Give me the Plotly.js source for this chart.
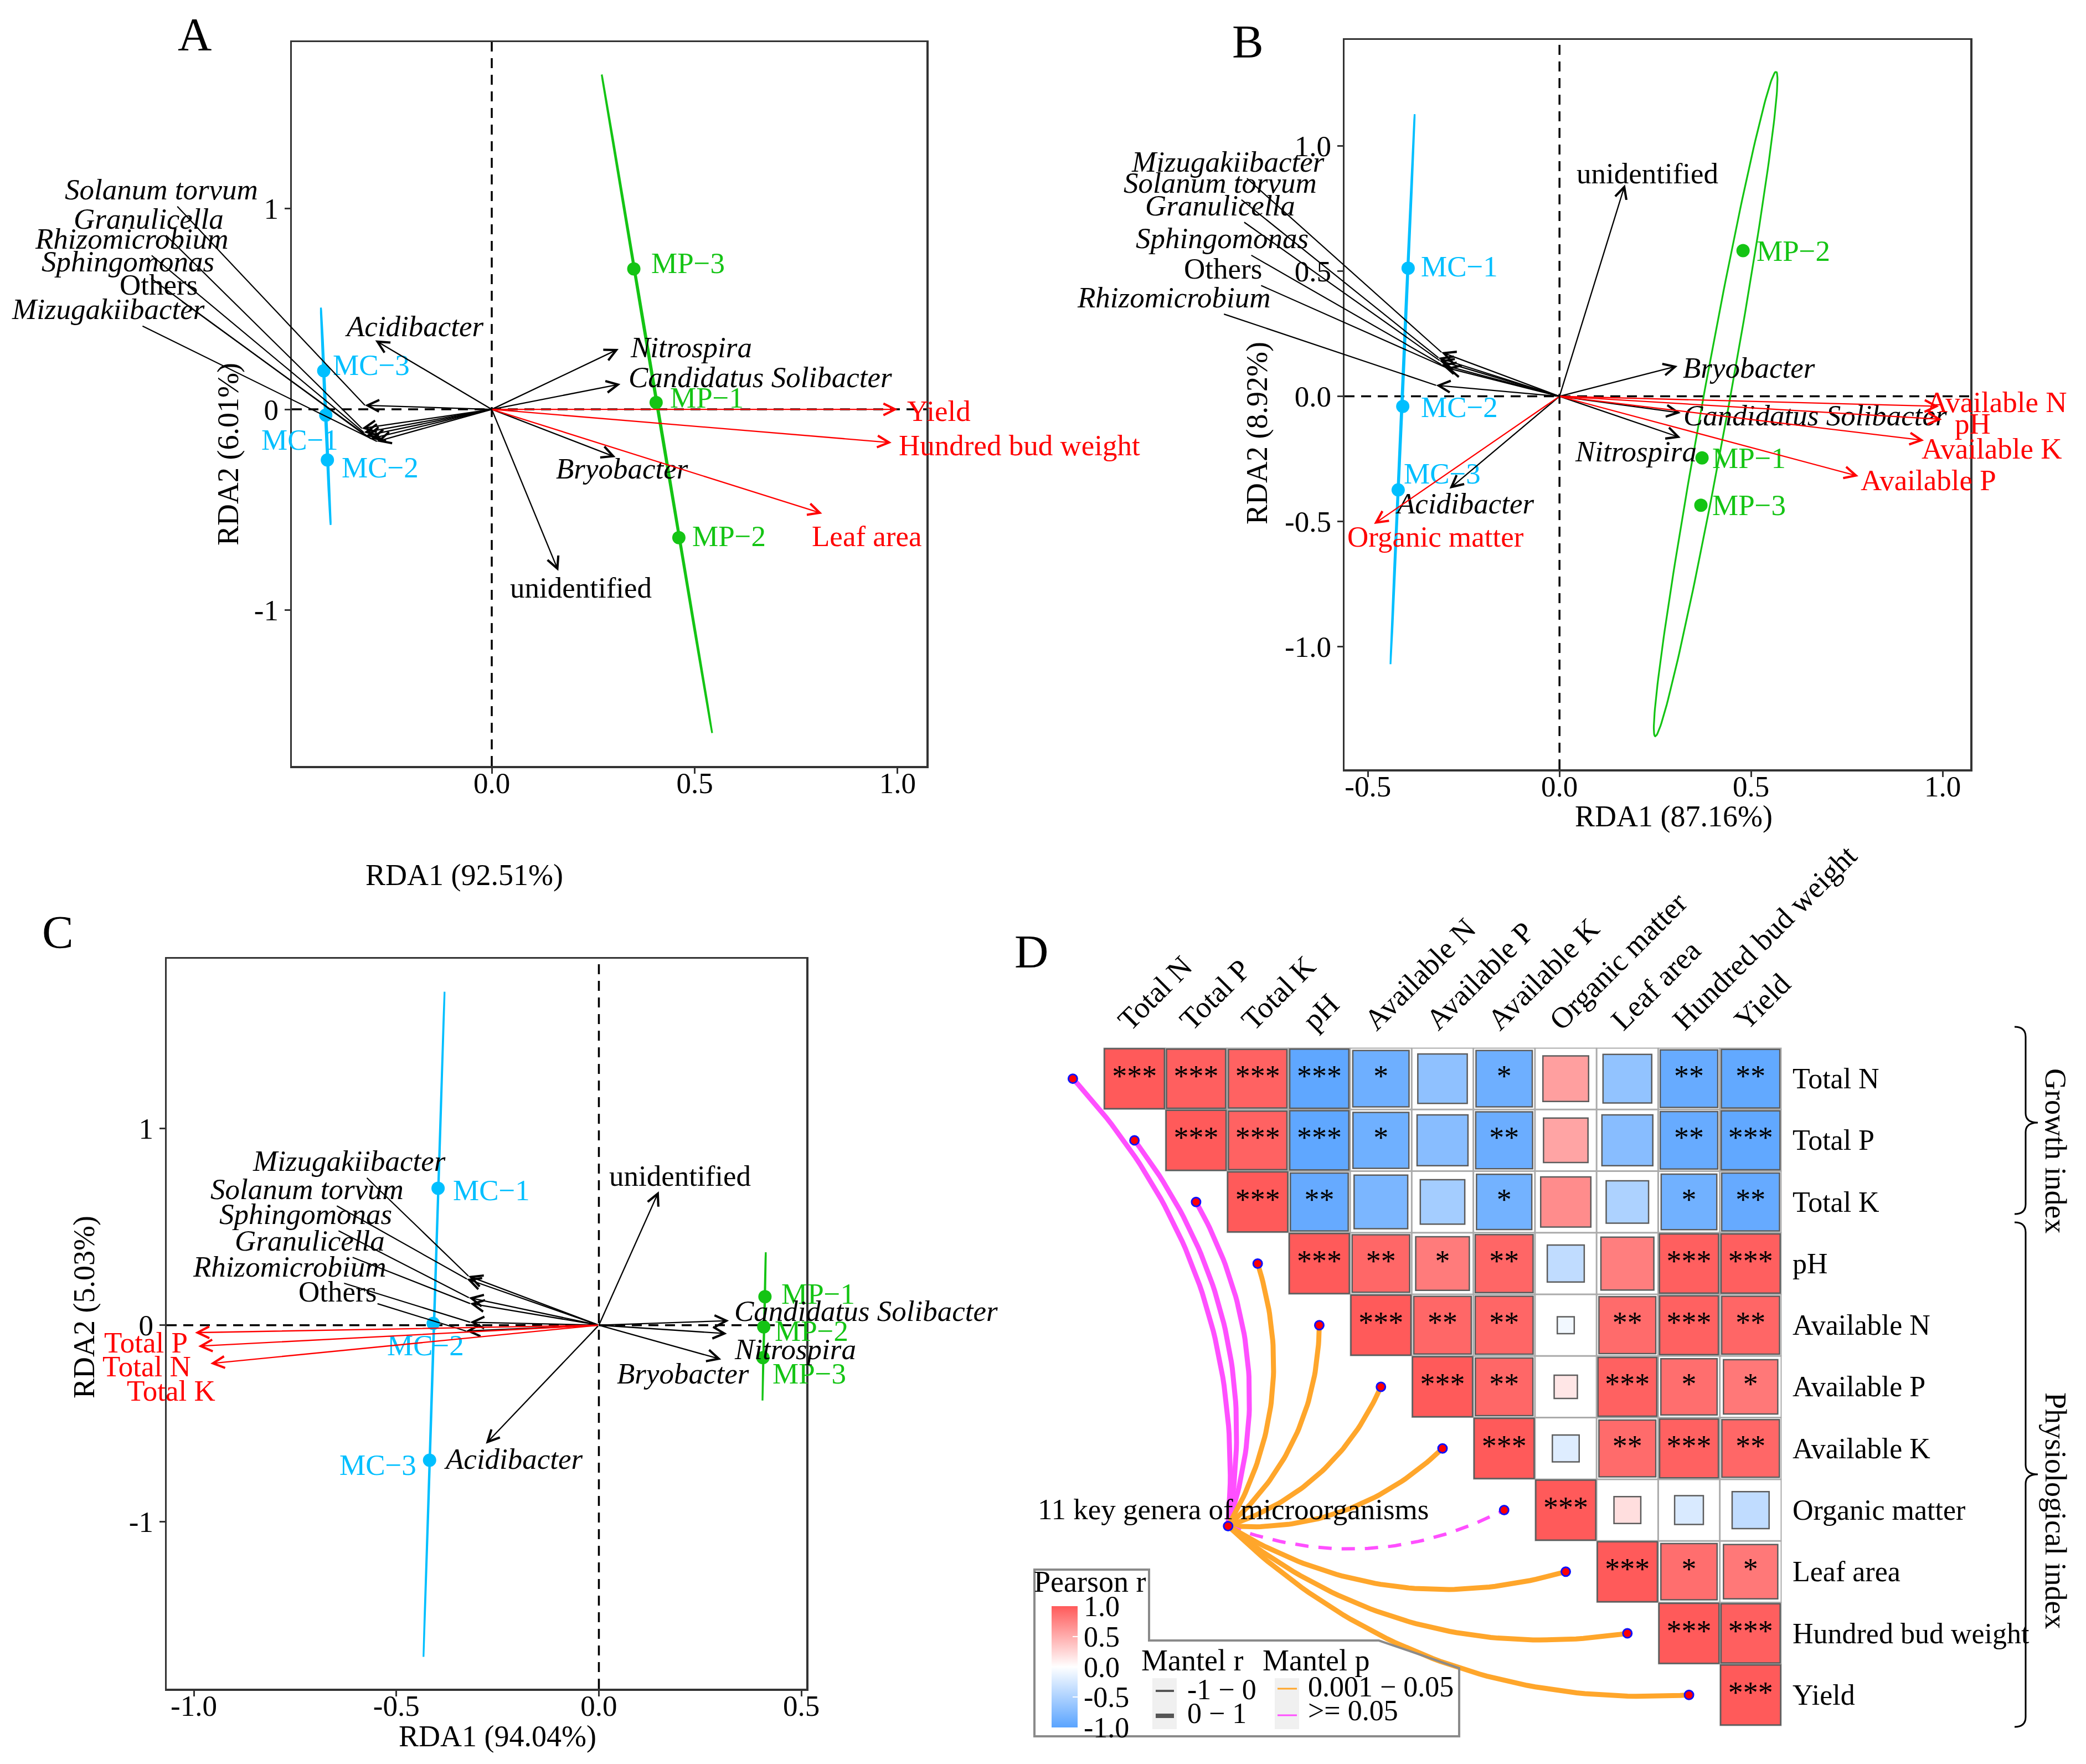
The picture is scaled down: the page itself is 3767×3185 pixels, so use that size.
<!DOCTYPE html>
<html><head><meta charset="utf-8">
<script src="https://cdn.plot.ly/plotly-3.0.1.min.js"></script>
<style>html,body{margin:0;padding:0;background:#fff}#chart{width:3767px;height:3185px}</style>
</head><body><div id="chart"></div>
<script>
const W = 3767, H = 3185;
const FONT = '"Liberation Serif","Times New Roman",Times,serif';

// ================= DATA =================
const sites = ['MC−1','MC−2','MC−3','MP−1','MP−2','MP−3'];
const siteGroup = ['MC','MC','MC','MP','MP','MP'];
const species = ['Solanum torvum','Granulicella','Rhizomicrobium','Sphingomonas','Others','Mizugakiibacter','Acidibacter','Nitrospira','Candidatus Solibacter','Bryobacter','unidentified'];
const speciesItalic = [1,1,1,1,0,1,1,1,1,1,0];

// Panel A
const A_siteRDA1 = [-0.409,-0.405,-0.414,0.405,0.461,0.350];
const A_siteRDA2 = [-0.029,-0.252,0.192,0.034,-0.639,0.700];
const A_specRDA1 = [-0.3125,-0.320,-0.315,-0.310,-0.298,-0.283,-0.287,0.3125,0.317,0.305,0.164];
const A_specRDA2 = [0.020,-0.095,-0.115,-0.132,-0.146,-0.160,0.344,0.301,0.126,-0.238,-0.805];
const A_env = ['Yield','Hundred bud weight','Leaf area'];
const A_envRDA1 = [1.000,0.985,0.814];
const A_envRDA2 = [0.000,-0.166,-0.519];
const A_ellMC = [[-0.421,-0.397],[0.507,-0.576],0.002];
const A_ellMP = [[0.271,0.543],[1.668,-1.613],0.002];

// Panel B
const B_siteRDA1 = [-0.395,-0.409,-0.421,0.372,0.479,0.369];
const B_siteRDA2 = [0.512,-0.040,-0.374,-0.246,0.582,-0.435];
const B_specRDA1 = [-0.316,-0.313,-0.322,-0.308,-0.295,-0.308,-0.287,0.316,0.316,0.308,0.171];
const B_specRDA2 = [0.154,0.143,0.044,0.127,0.114,0.176,-0.369,-0.165,-0.066,0.121,0.846];
const B_env = ['Available N','pH','Available K','Available P','Organic matter'];
const B_envRDA1 = [0.990,0.998,0.951,0.780,-0.484];
const B_envRDA2 = [-0.040,-0.092,-0.176,-0.319,-0.510];
const B_ellMC = [[-0.378,-0.441],[1.127,-1.070],0.002];
const B_ellMP = [[0.565,0.250],[1.297,-1.358],0.035];

// Panel C
const C_siteRDA1 = [-0.397,-0.409,-0.418,0.410,0.407,0.405];
const C_siteRDA2 = [0.696,0.009,-0.687,0.145,-0.009,-0.165];
const C_specRDA1 = [-0.326,-0.318,-0.318,-0.321,-0.328,-0.322,-0.279,0.316,0.321,0.302,0.148];
const C_specRDA2 = [0.235,0.110,0.015,0.140,-0.030,0.250,-0.603,-0.043,0.023,-0.174,0.681];
const C_env = ['Total P','Total N','Total K'];
const C_envRDA1 = [-0.997,-0.989,-0.959];
const C_envRDA2 = [-0.038,-0.107,-0.195];
const C_ellMC = [[-0.381,-0.433],[1.696,-1.687],0.001];
const C_ellMP = [[0.412,0.404],[0.371,-0.383],0.001];

// Panel D (Pearson r, upper triangle rows; first value = diagonal)
const D_vars = ['Total N','Total P','Total K','pH','Available N','Available P','Available K','Organic matter','Leaf area','Hundred bud weight','Yield'];
const D_r = [
  [1,0.97,0.95,-0.97,-0.88,-0.68,-0.88,0.58,-0.66,-0.92,-0.95],
  [1,0.95,-0.97,-0.87,-0.72,-0.90,0.55,-0.72,-0.92,-0.96],
  [1,-0.93,-0.80,-0.55,-0.85,0.70,-0.50,-0.86,-0.93],
  [1,0.92,0.80,0.93,-0.38,0.78,0.97,0.97],
  [1,0.92,0.93,-0.08,0.90,0.96,0.93],
  [1,0.92,0.15,0.96,0.88,0.82],
  [1,-0.20,0.90,0.96,0.92],
  [1,0.20,-0.23,-0.38],
  [1,0.88,0.82],
  [1,0.97],
  [1]
];
const D_sig = [
  ['***','***','***','***','*','','*','','','**','**'],
  ['***','***','***','*','','**','','','**','***'],
  ['***','**','','','*','','','*','**'],
  ['***','**','*','**','','','***','***'],
  ['***','**','**','','**','***','**'],
  ['***','**','','***','*','*'],
  ['***','','**','***','**'],
  ['***','','',''],
  ['***','*','*'],
  ['***','***'],
  ['***']
];
const mantelP = ['>= 0.05','>= 0.05','>= 0.05','0.001 - 0.05','0.001 - 0.05','0.001 - 0.05','0.001 - 0.05','>= 0.05','0.001 - 0.05','0.001 - 0.05','0.001 - 0.05'];
const mantelR = ['0 - 1','0 - 1','0 - 1','0 - 1','0 - 1','0 - 1','0 - 1','-1 - 0','0 - 1','0 - 1','0 - 1'];

// ================= LABEL PLACEMENT (layout) =================
const A_siteLab = {x:[-0.473,-0.372,-0.394,0.436,0.491,0.390], y:[-0.152,-0.289,0.221,0.057,-0.633,0.728], a:['center','left','left','left','left','left']};
const A_specLab = {x:[-0.814,-0.845,-0.888,-0.896,-0.821,-0.945,-0.190,0.491,0.662,0.321,0.219], y:[1.095,0.951,0.851,0.736,0.622,0.499,0.415,0.309,0.160,-0.295,-0.888], a:['lead','lead','lead','lead','lead','lead','center','center','center','center','center']};
const A_envLab = {x:[1.020,1.000,0.786], y:[-0.009,-0.180,-0.633], a:['left','left','left']};

const B_siteLab = {x:[-0.365,-0.365,-0.409,0.395,0.512,0.395], y:[0.519,-0.044,-0.308,-0.246,0.580,-0.435], a:['left','left','left','left','left','left']};
const B_specLab = {x:[-0.885,-0.885,-1.007,-0.881,-0.878,-0.865,-0.246,0.199,0.668,0.495,0.229], y:[0.853,0.763,0.396,0.631,0.510,0.938,-0.429,-0.220,-0.077,0.114,0.890], a:['lead','lead','lead','lead','lead','lead','center','center','center','center','center']};
const B_envLab = {x:[0.955,1.028,0.942,0.783,-0.323], y:[-0.022,-0.110,-0.209,-0.334,-0.560], a:['left','left','left','left','center']};

const C_siteLab = {x:[-0.363,-0.428,-0.545,0.448,0.431,0.426], y:[0.687,-0.101,-0.710,0.159,-0.029,-0.246], a:['left','center','center','left','left','left']};
const C_specLab = {x:[-0.721,-0.714,-0.764,-0.724,-0.645,-0.616,-0.211,0.332,0.332,0.208,0.200], y:[0.693,0.431,0.299,0.566,0.172,0.835,-0.681,-0.122,0.072,-0.246,0.759], a:['lead','lead','lead','lead','lead','lead','center','left','left','center','center']};
const C_envLab = {x:[-1.012,-1.004,-0.944], y:[-0.087,-0.209,-0.333], a:['right','right','right']};

// ================= BUILD =================
const traces = [], annotations = [], shapes = [];
const COL = {MC:'#00BFFF', MP:'#14C414'};
const RED = '#FF0000';
function F(size, color){ return {family:FONT, size:size, color:color||'#000'}; }
function PX(x){ return x/W; } function PY(y){ return 1 - y/H; }
function P(x,y){ return PX(x).toFixed(5)+','+PY(y).toFixed(5); }

function ellipsePts(e){
  const xe=e[0], ye=e[1], hw=e[2];
  const cx=(xe[0]+xe[1])/2, cy=(ye[0]+ye[1])/2, ax=(xe[0]-xe[1])/2, ay=(ye[0]-ye[1])/2;
  const xs=[], ys=[];
  for(let k=0;k<=200;k++){ const t=2*Math.PI*k/200; xs.push(cx+ax*Math.cos(t)+hw*Math.sin(t)); ys.push(cy+ay*Math.cos(t)); }
  return [xs,ys];
}

function addRDA(p){
  const xa=p.xa, ya=p.ya;
  const dash = {color:'#000', width:3.5, dash:'18px,12px'};
  shapes.push({type:'line', xref:xa, yref:ya+' domain', x0:0, x1:0, y0:0, y1:1, layer:'below', line:dash});
  shapes.push({type:'line', xref:xa+' domain', yref:ya, x0:0, x1:1, y0:0, y1:0, layer:'below', line:dash});
  [['MC',p.ellMC],['MP',p.ellMP]].forEach(function(g){
    const pts = ellipsePts(g[1]);
    traces.push({type:'scatter', mode:'lines', x:pts[0], y:pts[1], xaxis:xa, yaxis:ya, line:{color:COL[g[0]], width:3.2}, hoverinfo:'skip'});
  });
  traces.push({type:'scatter', mode:'markers', x:p.siteX, y:p.siteY, xaxis:xa, yaxis:ya,
    marker:{size:24, color:siteGroup.map(g=>COL[g])}, hoverinfo:'skip'});
  sites.forEach(function(s,i){
    annotations.push({xref:xa, yref:ya, x:p.siteLab.x[i], y:p.siteLab.y[i], xanchor:p.siteLab.a[i], yanchor:'middle',
      text:s, showarrow:false, font:F(53, COL[siteGroup[i]])});
  });
  species.forEach(function(s,i){
    annotations.push({xref:xa, yref:ya, axref:xa, ayref:ya, x:p.specX[i], y:p.specY[i], ax:0, ay:0, text:'',
      showarrow:true, arrowhead:5, arrowsize:1.8, arrowwidth:2.3, arrowcolor:'#000', standoff:0, startstandoff:0});
    const txt = speciesItalic[i] ? '<i>'+s+'</i>' : s;
    if(p.specLab.a[i]==='lead'){
      annotations.push({xref:xa, yref:ya, axref:xa, ayref:ya, x:p.specX[i], y:p.specY[i], ax:p.specLab.x[i], ay:p.specLab.y[i],
        text:txt, showarrow:true, arrowhead:0, arrowwidth:2.2, arrowcolor:'#000', standoff:0, font:F(53)});
    } else {
      annotations.push({xref:xa, yref:ya, x:p.specLab.x[i], y:p.specLab.y[i], xanchor:p.specLab.a[i], yanchor:'middle',
        text:txt, showarrow:false, font:F(53)});
    }
  });
  p.env.forEach(function(s,i){
    annotations.push({xref:xa, yref:ya, axref:xa, ayref:ya, x:p.envX[i], y:p.envY[i], ax:0, ay:0, text:'',
      showarrow:true, arrowhead:5, arrowsize:1.8, arrowwidth:2.3, arrowcolor:RED, standoff:0, startstandoff:0});
    annotations.push({xref:xa, yref:ya, x:p.envLab.x[i], y:p.envLab.y[i], xanchor:p.envLab.a[i], yanchor:'middle',
      text:s, showarrow:false, font:F(53, RED)});
  });
}

addRDA({xa:'x', ya:'y', siteX:A_siteRDA1, siteY:A_siteRDA2, specX:A_specRDA1, specY:A_specRDA2, env:A_env, envX:A_envRDA1, envY:A_envRDA2,
  ellMC:A_ellMC, ellMP:A_ellMP, siteLab:A_siteLab, specLab:A_specLab, envLab:A_envLab});
addRDA({xa:'x2', ya:'y2', siteX:B_siteRDA1, siteY:B_siteRDA2, specX:B_specRDA1, specY:B_specRDA2, env:B_env, envX:B_envRDA1, envY:B_envRDA2,
  ellMC:B_ellMC, ellMP:B_ellMP, siteLab:B_siteLab, specLab:B_specLab, envLab:B_envLab});
addRDA({xa:'x3', ya:'y3', siteX:C_siteRDA1, siteY:C_siteRDA2, specX:C_specRDA1, specY:C_specRDA2, env:C_env, envX:C_envRDA1, envY:C_envRDA2,
  ellMC:C_ellMC, ellMP:C_ellMP, siteLab:C_siteLab, specLab:C_specLab, envLab:C_envLab});

[['A',351,62],['B',2253,75],['C',104,1683],['D',1862,1718]].forEach(function(l){
  annotations.push({xref:'paper', yref:'paper', x:PX(l[1]), y:PY(l[2]), xanchor:'center', yanchor:'middle', text:l[0], showarrow:false, font:F(85)});
});
[['RDA2 (6.01%)',412,820,-90],['RDA1 (92.51%)',838,1580,0],
 ['RDA2 (8.92%)',2270,782,-90],['RDA1 (87.16%)',3022,1474,0],
 ['RDA2 (5.03%)',152,2360,-90],['RDA1 (94.04%)',898,3135,0]].forEach(function(t){
  annotations.push({xref:'paper', yref:'paper', x:PX(t[1]), y:PY(t[2]), xanchor:'center', yanchor:'middle', text:t[0], textangle:t[3], showarrow:false, font:F(54)});
});

// ---------- Panel D ----------
const D_LEFT = 1993, D_TOP = 1892, CELL = 111.27;
const Dx=[], Dy=[], Dval=[], Dstar=[];
D_r.forEach(function(row,i){ row.forEach(function(v,k){ Dx.push(i+k); Dy.push(i); Dval.push(v); Dstar.push(D_sig[i][k]); }); });
traces.push({type:'scatter', mode:'markers', x:Dx, y:Dy, xaxis:'x4', yaxis:'y4', hoverinfo:'skip',
  marker:{symbol:'square', size:CELL-1, color:'#FFFFFF', opacity:1, line:{color:'#ABABAB', width:2}}});
traces.push({type:'scatter', mode:'markers', x:Dx, y:Dy, xaxis:'x4', yaxis:'y4', hoverinfo:'skip',
  marker:{symbol:'square', opacity:1, size:Dval.map(v=>(CELL-3)*Math.sqrt(Math.abs(v))), color:Dval, cmin:-1, cmax:1,
    colorscale:[[0,'#5AA4FF'],[0.5,'#FFFFFF'],[1,'#FF5A5A']], line:{color:'#5C5C5C', width:2.5},
    colorbar:{x:PX(1899), xanchor:'left', y:PY(3119), yanchor:'bottom', xref:'paper', yref:'paper', lenmode:'pixels', len:219, thicknessmode:'pixels', thickness:47,
      xpad:0, ypad:0, outlinewidth:0, tickvals:[-1,-0.5,0,0.5,1], ticktext:['-1.0','-0.5','0.0','0.5','1.0'],
      ticks:'inside', tickcolor:'#FFFFFF', ticklen:9, tickwidth:2, tickfont:F(52)}}});
traces.push({type:'scatter', mode:'text', x:Dx, y:Dy, xaxis:'x4', yaxis:'y4', text:Dstar, textposition:'middle center',
  textfont:F(54), hoverinfo:'skip'});

const HUB = [1.52, 7.26], BEND = 0.22;
const MANTEL_P_COL = {'0.001 - 0.05':'#FFA62B', '>= 0.05':'#FF4FFF'};
D_vars.forEach(function(v,i){
  const e=[i-1, i], dx=e[0]-HUB[0], dy=e[1]-HUB[1];
  const c=[(HUB[0]+e[0])/2 - BEND*dy, (HUB[1]+e[1])/2 + BEND*dx];
  const xs=[], ys=[];
  for(let k=0;k<=60;k++){ const t=k/60, a=(1-t)*(1-t), b=2*(1-t)*t, d=t*t;
    xs.push(a*HUB[0]+b*c[0]+d*e[0]); ys.push(a*HUB[1]+b*c[1]+d*e[1]); }
  const neg = mantelR[i]==='-1 - 0';
  traces.push({type:'scatter', mode:'lines', x:xs, y:ys, xaxis:'x4', yaxis:'y4', hoverinfo:'skip',
    line:{color:MANTEL_P_COL[mantelP[i]], width:neg?6:9, dash:neg?'24px,18px':'solid'}});
});
traces.push({type:'scatter', mode:'markers', x:D_vars.map((v,i)=>i-1).concat([HUB[0]]), y:D_vars.map((v,i)=>i).concat([HUB[1]]),
  xaxis:'x4', yaxis:'y4', hoverinfo:'skip', marker:{size:16, color:'#FF0000', line:{color:'#1010FF', width:3}}});
annotations.push({xref:'x4', yref:'y4', x:1.60, y:6.99, xanchor:'center', yanchor:'middle', text:'11 key genera of microorganisms', showarrow:false, font:F(53)});

D_vars.forEach(function(v,i){
  annotations.push({xref:'x4', yref:'y4', x:10.66, y:i, xanchor:'left', yanchor:'middle', text:v, showarrow:false, font:F(52)});
  annotations.push({xref:'x4', yref:'y4', x:i-0.40, y:-0.66, xanchor:'left', yanchor:'bottom', textangle:-45, text:v, showarrow:false, font:F(54)});
});

function bracket(x, top, bot, mid){
  return 'M'+P(x-20,top)+' Q'+P(x,top)+' '+P(x,top+18)+' L'+P(x,mid-17)+' Q'+P(x,mid)+' '+P(x+22,mid)+
         ' Q'+P(x,mid)+' '+P(x,mid+17)+' L'+P(x,bot-18)+' Q'+P(x,bot)+' '+P(x-20,bot);
}
shapes.push({type:'path', xref:'paper', yref:'paper', path:bracket(3658,1854,2192,2027), line:{color:'#000', width:3}});
shapes.push({type:'path', xref:'paper', yref:'paper', path:bracket(3658,2207,3118,2662), line:{color:'#000', width:3}});
annotations.push({xref:'paper', yref:'paper', x:PX(3712), y:PY(2078), xanchor:'center', yanchor:'middle', text:'Growth index', textangle:90, showarrow:false, font:F(54)});
annotations.push({xref:'paper', yref:'paper', x:PX(3712), y:PY(2727), xanchor:'center', yanchor:'middle', text:'Physiological index', textangle:90, showarrow:false, font:F(54)});

shapes.push({type:'path', xref:'paper', yref:'paper', line:{color:'#8A8A8A', width:4},
  path:'M'+P(1868,2834)+' L'+P(2075,2834)+' L'+P(2075,2962)+' L'+P(2490,2962)+' L'+P(2635,3012)+' L'+P(2635,3135)+' L'+P(1868,3135)+' Z'});
shapes.push({type:'rect', xref:'paper', yref:'paper', x0:PX(2081), x1:PX(2125), y0:PY(3122), y1:PY(3030), fillcolor:'#F0F0F0', line:{width:0}});
shapes.push({type:'rect', xref:'paper', yref:'paper', x0:PX(2302), x1:PX(2346), y0:PY(3122), y1:PY(3030), fillcolor:'#F0F0F0', line:{width:0}});
shapes.push({type:'line', xref:'paper', yref:'paper', x0:PX(2087), x1:PX(2120), y0:PY(3053), y1:PY(3053), line:{color:'#555', width:4}});
shapes.push({type:'line', xref:'paper', yref:'paper', x0:PX(2087), x1:PX(2120), y0:PY(3098), y1:PY(3098), line:{color:'#555', width:8}});
shapes.push({type:'line', xref:'paper', yref:'paper', x0:PX(2307), x1:PX(2342), y0:PY(3049), y1:PY(3049), line:{color:'#FFA62B', width:3}});
shapes.push({type:'line', xref:'paper', yref:'paper', x0:PX(2307), x1:PX(2342), y0:PY(3097), y1:PY(3097), line:{color:'#FF4FFF', width:3}});
[['Pearson r',1968,2856,'center',54],['Mantel r',2153,2998,'center',54],['Mantel p',2376,2998,'center',54],
 ['-1 − 0',2142,3050,'left',52],['0 − 1',2142,3093,'left',52],['0.001 − 0.05',2360,3045,'left',52],['>= 0.05',2360,3088,'left',52]].forEach(function(t){
  annotations.push({xref:'paper', yref:'paper', x:PX(t[1]), y:PY(t[2]), xanchor:t[3], yanchor:'middle', text:t[0], showarrow:false, font:F(t[4])});
});

// ================= LAYOUT =================
const axisCommon = {showgrid:false, zeroline:false, showline:true, mirror:true, linecolor:'#333333', linewidth:3.5,
  ticks:'outside', ticklen:10, tickwidth:3, tickcolor:'#333333', tickfont:F(53), fixedrange:true};
const xTick = {ticklabelstandoff:-28};
const layout = {
  width:W, height:H, margin:{l:0,r:0,t:0,b:0}, paper_bgcolor:'#FFFFFF', plot_bgcolor:'#FFFFFF', showlegend:false,
  xaxis:Object.assign({}, axisCommon, xTick, {domain:[PX(527),PX(1673)], range:[-0.4926,1.071], tickvals:[0,0.5,1], ticktext:['0.0','0.5','1.0'], anchor:'y'}),
  yaxis:Object.assign({}, axisCommon, {domain:[PY(1383),PY(76)], range:[-1.777,1.83], tickvals:[-1,0,1], ticktext:['-1','0','1'], anchor:'x'}),
  xaxis2:Object.assign({}, axisCommon, xTick, {domain:[PX(2428),PX(3558)], range:[-0.561,1.072], tickvals:[-0.5,0,0.5,1], ticktext:['-0.5','0.0','0.5','1.0'], anchor:'y2'}),
  yaxis2:Object.assign({}, axisCommon, {domain:[PY(1389),PY(72)], range:[-1.490,1.424], tickvals:[-1,-0.5,0,0.5,1], ticktext:['-1.0','-0.5','0.0','0.5','1.0'], anchor:'x2'}),
  xaxis3:Object.assign({}, axisCommon, xTick, {domain:[PX(301),PX(1456)], range:[-1.067,0.512], tickvals:[-1,-0.5,0,0.5], ticktext:['-1.0','-0.5','0.0','0.5'], anchor:'y3'}),
  yaxis3:Object.assign({}, axisCommon, {domain:[PY(3049),PY(1731)], range:[-1.849,1.864], tickvals:[-1,0,1], ticktext:['-1','0','1'], anchor:'x3'}),
  xaxis4:{visible:false, fixedrange:true, anchor:'y4', range:[-1.5,14.5], domain:[PX(D_LEFT-CELL), PX(D_LEFT+15*CELL)]},
  yaxis4:{visible:false, fixedrange:true, anchor:'x4', range:[10.6,-3.0], domain:[PY(D_TOP+11.1*CELL), PY(D_TOP-2.5*CELL)]},
  annotations:annotations, shapes:shapes
};
traces.forEach(t=>{ t.showlegend=false; });
Plotly.newPlot('chart', traces, layout, {displayModeBar:false, staticPlot:true});
</script></body></html>
